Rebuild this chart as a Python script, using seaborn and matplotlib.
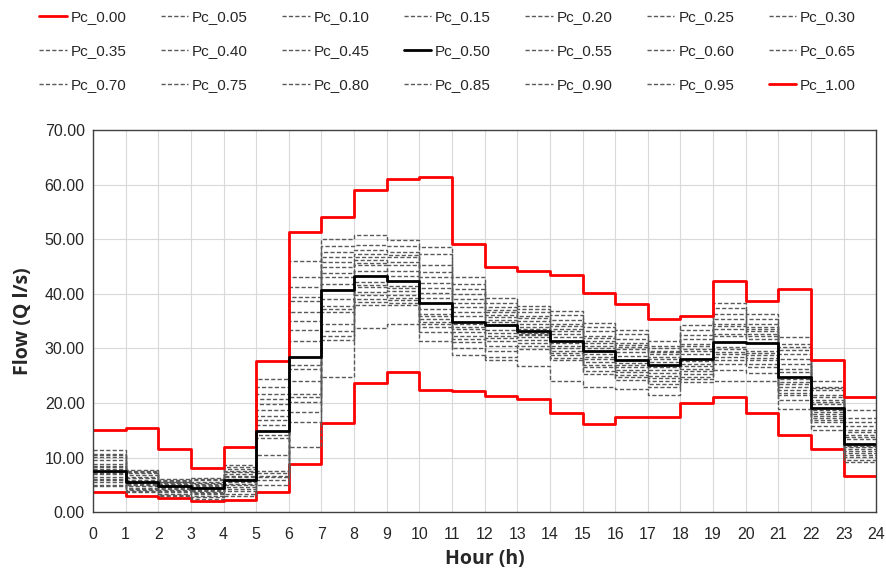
import numpy as np
import pandas as pd
import matplotlib
matplotlib.use('Agg')
import matplotlib.pyplot as plt
import seaborn as sns

hours = list(range(24))
tick_hours = list(range(25))

# flow per hour (Q l/s) for each percentile curve
pc_000 = [3.7, 2.9, 2.6, 2.0, 2.3, 3.7, 8.9, 16.3, 23.7, 25.6, 22.4, 22.2, 21.2, 20.8, 18.1, 16.2, 17.4, 17.4, 19.9, 21.1, 18.2, 14.1, 11.5, 6.7]
pc_005 = [4.7, 3.7, 3.0, 2.4, 3.0, 5.0, 12.0, 24.8, 33.7, 34.5, 31.4, 28.7, 27.9, 26.7, 24.1, 22.9, 22.6, 21.4, 23.8, 24.1, 24.1, 18.9, 15.0, 9.2]
pc_010 = [5.0, 3.9, 3.2, 2.7, 3.4, 5.9, 16.6, 31.6, 38.0, 38.0, 33.0, 30.0, 28.4, 29.9, 27.9, 25.3, 24.2, 22.9, 24.3, 26.0, 25.5, 20.5, 15.8, 9.6]
pc_015 = [5.5, 4.1, 3.4, 3.0, 3.8, 6.4, 18.3, 32.3, 38.5, 38.4, 34.0, 31.1, 29.6, 30.5, 28.3, 25.9, 24.7, 23.5, 24.8, 27.2, 26.5, 21.4, 16.5, 10.1]
pc_020 = [5.8, 4.3, 3.6, 3.3, 4.2, 6.7, 20.1, 33.1, 39.1, 38.8, 34.4, 31.7, 30.5, 31.0, 28.8, 26.5, 25.2, 24.1, 25.3, 27.8, 27.2, 21.9, 16.9, 10.5]
pc_025 = [6.1, 4.5, 3.8, 3.5, 4.6, 7.2, 21.0, 34.5, 39.7, 39.3, 34.8, 32.3, 31.4, 31.5, 29.2, 27.0, 25.6, 24.6, 25.8, 28.4, 27.8, 22.3, 17.3, 10.8]
pc_030 = [6.5, 4.7, 4.0, 3.7, 4.9, 7.6, 21.7, 36.7, 40.3, 39.7, 35.4, 33.0, 31.9, 32.0, 29.6, 27.5, 26.0, 25.0, 26.3, 28.9, 28.3, 22.9, 17.7, 11.2]
pc_035 = [6.9, 4.9, 4.2, 3.9, 5.2, 10.5, 24.0, 37.2, 41.2, 40.6, 35.9, 33.5, 32.3, 32.4, 30.0, 28.0, 26.5, 25.5, 26.7, 29.3, 28.7, 23.4, 18.0, 11.6]
pc_040 = [7.1, 5.1, 4.4, 4.1, 5.5, 13.5, 26.2, 37.7, 41.6, 41.1, 36.3, 33.9, 32.8, 32.7, 30.5, 28.4, 26.9, 26.0, 27.2, 29.8, 29.2, 23.8, 18.4, 11.9]
pc_045 = [7.4, 5.3, 4.6, 4.3, 5.7, 14.2, 27.0, 39.0, 42.1, 41.5, 37.2, 34.4, 33.3, 32.9, 30.9, 29.0, 27.4, 26.5, 27.6, 30.2, 29.6, 24.3, 18.7, 12.2]
pc_050 = [7.6, 5.5, 4.7, 4.4, 5.9, 14.8, 28.4, 40.7, 43.3, 42.4, 38.3, 34.9, 34.2, 33.1, 31.3, 29.5, 27.9, 26.9, 28.1, 31.1, 30.9, 24.8, 19.1, 12.5]
pc_055 = [7.9, 5.7, 4.8, 4.6, 6.1, 15.9, 31.3, 41.8, 44.2, 43.3, 39.3, 36.0, 34.8, 33.5, 32.0, 30.0, 28.6, 27.5, 29.0, 32.2, 31.7, 25.6, 19.8, 13.4]
pc_060 = [8.2, 5.9, 5.0, 4.8, 6.4, 16.8, 33.3, 43.0, 45.2, 44.2, 40.2, 36.6, 35.2, 34.0, 32.7, 30.5, 29.3, 28.1, 29.5, 32.7, 32.2, 26.3, 20.2, 13.8]
pc_065 = [8.5, 6.2, 5.2, 5.0, 6.7, 17.7, 35.1, 43.9, 45.7, 45.2, 41.1, 37.5, 35.8, 34.5, 33.2, 31.0, 29.8, 28.5, 29.9, 33.6, 32.7, 27.2, 20.6, 14.2]
pc_070 = [8.8, 6.5, 5.4, 5.2, 7.0, 18.7, 36.7, 45.0, 46.2, 45.8, 42.0, 38.3, 36.2, 35.0, 33.6, 31.4, 30.2, 28.9, 30.4, 34.1, 33.1, 28.1, 21.0, 14.6]
pc_075 = [9.5, 6.8, 5.5, 5.4, 7.3, 19.8, 38.6, 45.8, 46.8, 46.7, 43.1, 39.1, 36.6, 35.5, 34.1, 31.9, 30.6, 29.3, 30.8, 34.5, 33.6, 29.0, 21.4, 15.0]
pc_080 = [10.1, 7.1, 5.6, 5.6, 7.6, 20.7, 39.4, 46.8, 47.3, 47.2, 44.0, 40.0, 37.1, 36.0, 34.5, 32.3, 30.9, 29.6, 31.7, 35.4, 34.0, 29.7, 22.3, 15.7]
pc_085 = [10.4, 7.3, 5.7, 5.8, 7.9, 21.7, 41.3, 47.6, 48.0, 47.6, 45.2, 40.9, 37.5, 36.6, 35.2, 33.1, 31.7, 30.1, 32.5, 36.3, 34.5, 30.3, 22.7, 16.5]
pc_090 = [10.7, 7.5, 5.9, 6.0, 8.3, 22.9, 43.1, 48.8, 48.9, 48.8, 47.3, 41.8, 38.3, 37.2, 36.1, 33.9, 32.7, 30.5, 33.3, 37.4, 35.4, 30.8, 23.0, 17.3]
pc_095 = [11.4, 7.8, 6.1, 6.3, 8.7, 24.4, 46.1, 50.0, 50.8, 49.9, 48.5, 43.1, 39.2, 37.8, 36.9, 34.6, 33.4, 31.4, 34.2, 38.3, 36.3, 32.0, 24.0, 18.7]
pc_100 = [15.0, 15.4, 11.5, 8.0, 12.0, 27.6, 51.4, 54.1, 59.1, 61.0, 61.5, 49.2, 45.0, 44.2, 43.5, 40.2, 38.1, 35.3, 36.0, 42.4, 38.6, 40.8, 27.9, 21.0]

series = {
    'Pc_0.00': pc_000, 'Pc_0.05': pc_005, 'Pc_0.10': pc_010, 'Pc_0.15': pc_015,
    'Pc_0.20': pc_020, 'Pc_0.25': pc_025, 'Pc_0.30': pc_030, 'Pc_0.35': pc_035,
    'Pc_0.40': pc_040, 'Pc_0.45': pc_045, 'Pc_0.50': pc_050, 'Pc_0.55': pc_055,
    'Pc_0.60': pc_060, 'Pc_0.65': pc_065, 'Pc_0.70': pc_070, 'Pc_0.75': pc_075,
    'Pc_0.80': pc_080, 'Pc_0.85': pc_085, 'Pc_0.90': pc_090, 'Pc_0.95': pc_095,
    'Pc_1.00': pc_100,
}

# long table, last hour repeated so the step runs out to 24
rows = []
for name, vals in series.items():
    for h, v in zip(tick_hours, list(vals) + [vals[-1]]):
        rows.append({'hour': h, 'flow': v, 'series': name})
df = pd.DataFrame(rows)

sns.set_style('white')
plt.rcParams['font.family'] = ['Liberation Sans', 'DejaVu Sans']

fig = plt.figure(figsize=(8.86, 5.76), dpi=100)
ax = fig.add_axes([0.105, 0.111, 0.884, 0.663])

for name in series:
    sub = df[df['series'] == name]
    if name in ('Pc_0.00', 'Pc_1.00'):
        kw = dict(color='#ff0000', linewidth=2.0, linestyle='-')
    elif name == 'Pc_0.50':
        kw = dict(color='black', linewidth=2.0, linestyle='-')
    else:
        kw = dict(color='#595959', linewidth=1.0, dashes=(3, 1.6))
    sns.lineplot(data=sub, x='hour', y='flow', ax=ax, drawstyle='steps-post',
                 label=name, zorder=3 if name == 'Pc_0.50' else 2, **kw)

ax.set_xlim(0, 24)
ax.set_ylim(0, 70)
ax.set_xticks(tick_hours)
ax.set_yticks(np.arange(0, 71, 10))
ax.set_yticklabels([f'{v:.2f}' for v in np.arange(0, 71, 10)])
ax.tick_params(axis='both', labelsize=11.5, length=0, pad=6)
ax.tick_params(axis='x', pad=11)
ax.grid(True, color='#d9d9d9', linewidth=0.8)
for s in ax.spines.values():
    s.set_color('#404040')
    s.set_linewidth(1.0)

ax.set_xlabel('Hour (h)', fontsize=14, fontweight='bold', labelpad=5,
              family=['Open Sans', 'DejaVu Sans'])
ax.set_ylabel('Flow (Q l/s)', fontsize=14, fontweight='bold', labelpad=8,
              family=['Open Sans', 'DejaVu Sans'])

# legend reads row by row: reorder for column-major fill
h, l = ax.get_legend_handles_labels()
ax.get_legend().remove()
order = [r * 7 + c for c in range(7) for r in range(3)]
fig.legend([h[i] for i in order], [l[i] for i in order], loc='upper center',
           bbox_to_anchor=(0.505, 1.006), ncol=7, frameon=False, fontsize=11,
           handlelength=1.8, handletextpad=0.25, columnspacing=2.25,
           labelspacing=1.3)

fig.savefig('out.png', dpi=100)
